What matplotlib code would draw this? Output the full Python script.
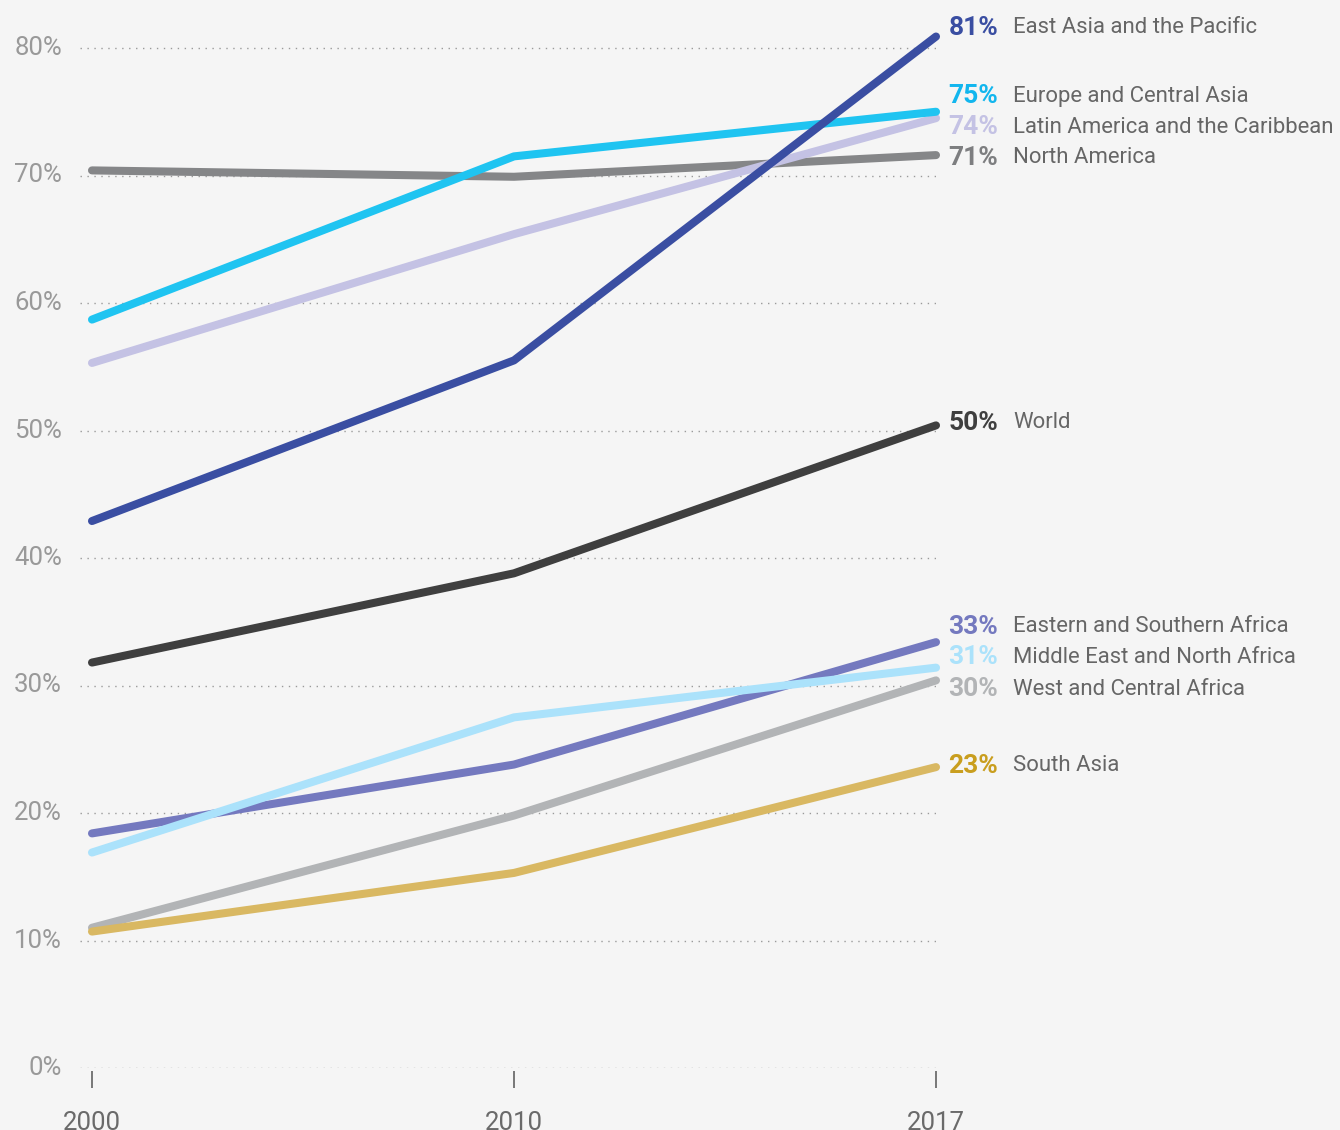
import matplotlib
matplotlib.use("Agg")
import matplotlib.pyplot as plt

years = ["2000", "2010", "2017"]
regions = ["North America", "Latin America and the Caribbean", "Europe and Central Asia",
           "East Asia and the Pacific", "World", "West and Central Africa", "South Asia",
           "Eastern and Southern Africa", "Middle East and North Africa"]
values = {
    "North America": [70.4, 69.9, 71.6],
    "Latin America and the Caribbean": [55.3, 65.4, 74.5],
    "Europe and Central Asia": [58.7, 71.5, 75.0],
    "East Asia and the Pacific": [42.9, 55.5, 80.9],
    "World": [31.8, 38.8, 50.4],
    "West and Central Africa": [11.0, 19.8, 30.4],
    "South Asia": [10.7, 15.3, 23.6],
    "Eastern and Southern Africa": [18.4, 23.8, 33.4],
    "Middle East and North Africa": [16.9, 27.5, 31.4],
}
end_labels = {
    "North America": "71%",
    "Latin America and the Caribbean": "74%",
    "Europe and Central Asia": "75%",
    "East Asia and the Pacific": "81%",
    "World": "50%",
    "West and Central Africa": "30%",
    "South Asia": "23%",
    "Eastern and Southern Africa": "33%",
    "Middle East and North Africa": "31%",
}
yticks = [0, 10, 20, 30, 40, 50, 60, 70, 80]

# styling
line_colors = {
    "North America": "#858688",
    "Latin America and the Caribbean": "#c4c2e4",
    "Europe and Central Asia": "#1fc4f1",
    "East Asia and the Pacific": "#3a4ea2",
    "World": "#3f3f3f",
    "West and Central Africa": "#b2b4b6",
    "South Asia": "#d9b862",
    "Eastern and Southern Africa": "#7479bf",
    "Middle East and North Africa": "#abe2fb",
}
pct_colors = dict(line_colors)
pct_colors["South Asia"] = "#c99e1e"
pct_colors["North America"] = "#7d7e80"
pct_colors["Europe and Central Asia"] = "#12b6ee"
# label y positions (data units) after de-overlapping
label_y = {
    "East Asia and the Pacific": 81.6,
    "Europe and Central Asia": 76.2,
    "Latin America and the Caribbean": 73.8,
    "North America": 71.4,
    "World": 50.6,
    "Eastern and Southern Africa": 34.6,
    "Middle East and North Africa": 32.2,
    "West and Central Africa": 29.7,
    "South Asia": 23.7,
}

BG = "#f5f5f5"
W, H = 1340, 1130
fig = plt.figure(figsize=(W / 100, H / 100), dpi=100, facecolor=BG)
left_px, right_px = 80, 936
bottom_px, top_px = 1068, 20
ax = fig.add_axes([left_px / W, 1 - bottom_px / H, (right_px - left_px) / W, (bottom_px - top_px) / H])
ax.set_facecolor(BG)
unit = (936 - 92) / 2
ax.set_xlim(-(92 - 80) / unit, 2)
ax.set_ylim(0, 80 + (48 - 20) / 12.75)

x = list(range(len(years)))
for r in regions:
    ax.plot(x, values[r], color=line_colors[r], lw=5.8, solid_capstyle="round",
            solid_joinstyle="round", clip_on=False, zorder=3)

for t in yticks:
    ax.axhline(t, color="#9a9a9a", lw=1.0, ls=(0, (1, 4)), zorder=1)

for s in ax.spines.values():
    s.set_visible(False)
ax.set_xticks([])
ax.set_yticks([])

fam = ["Roboto", "DejaVu Sans"]
for t in yticks:
    ax.annotate(f"{t}%", xy=(0, t), xycoords=("axes fraction", "data"), xytext=(-13, 0),
                textcoords="offset points", ha="right", va="center", fontsize=18.5,
                color="#999999", family=fam)

for i, yr in enumerate(years):
    ax.annotate(yr, xy=(i, 0), xycoords="data", xytext=(0, -31), textcoords="offset points",
                ha="center", va="top", fontsize=18.5, color="#6a6a6a", family=fam,
                annotation_clip=False)
    ax.vlines(i, -0.25, -1.55, color="#777777", lw=1.4, clip_on=False)

for r in regions:
    ly = label_y[r]
    ax.annotate(end_labels[r], xy=(2, ly), xycoords="data", xytext=(9, 0), textcoords="offset points",
                ha="left", va="center", fontsize=19, fontweight="bold", color=pct_colors[r],
                family=fam, annotation_clip=False)
    ax.annotate(r, xy=(2, ly), xycoords="data", xytext=(55.5, 0), textcoords="offset points",
                ha="left", va="center", fontsize=15.9, color="#666666", family=fam,
                annotation_clip=False)

fig.savefig("out.png", dpi=100, facecolor=BG)
